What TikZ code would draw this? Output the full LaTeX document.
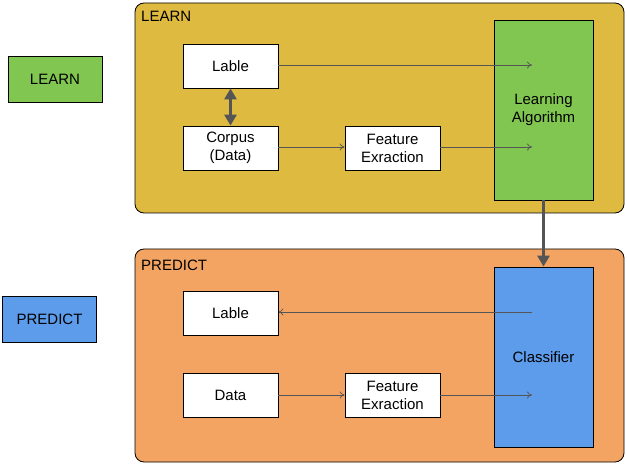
\documentclass[tikz,border=0pt]{standalone}
\usepackage{fontspec}
\setmainfont{Liberation Sans}
\usetikzlibrary{arrows.meta}
\definecolor{mustard}{HTML}{DEBA40}
\definecolor{lgreen}{HTML}{80C651}
\definecolor{orng}{HTML}{F4A462}
\definecolor{lblue}{HTML}{5D9CEA}
\definecolor{lgray}{HTML}{555555}
\tikzset{
  container/.style={draw=black, line width=0.8pt, rounded corners=9pt},
  wbox/.style={draw=black, fill=white, line width=0.8pt, minimum width=95pt, minimum height=44pt, inner sep=0pt, align=center, font=\fontsize{15}{18}\selectfont},
  tagbox/.style={draw=black, line width=0.9pt, minimum width=94pt, minimum height=46pt, inner sep=0pt, font=\fontsize{15}{18}\selectfont},
  bigbox/.style={draw=black, line width=0.8pt, minimum width=99pt, minimum height=180pt, inner sep=0pt, align=center, font=\fontsize{15}{18}\selectfont},
  thin/.style={draw=lgray, line width=0.7pt, -{To[length=5pt,width=7pt]}},
  thick/.style={draw=lgray, line width=3pt},
  title/.style={anchor=west, inner sep=0pt, font=\fontsize{15}{18}\selectfont},
}
\begin{document}
\begin{tikzpicture}[x=1pt,y=-1pt]
\useasboundingbox (0,0) rectangle (627,465);
% containers
\draw[container, fill=mustard] (135,3) rectangle (624,213);
\draw[container, fill=orng] (135,249) rectangle (624,462);
\node[title] (tl) at (141,16.5) {LEARN};
\node[title] (tp) at (141,265) {PREDICT};
% tags
\node[tagbox, fill=lgreen] (tagL) at (55,79) {LEARN};
\node[tagbox, fill=lblue] (tagP) at (49.5,319.5) {PREDICT};
% learn
\node[wbox] (lable1) at (230.5,66) {Lable};
\node[wbox] (corpus) at (230.5,148) {Corpus\\(Data)};
\node[wbox] (feat1) at (392.5,148) {Feature\\Exraction};
\node[bigbox, fill=lgreen] (algo) at (543.5,110) {Learning\\Algorithm};
\coordinate (a1) at (532,65);
\coordinate (a2) at (532,147);
% predict
\node[wbox] (lable2) at (230.5,313.5) {Lable};
\node[wbox] (data) at (230.5,395.5) {Data};
\node[wbox] (feat2) at (392.5,395.5) {Feature\\Exraction};
\node[bigbox, fill=lblue] (clf) at (543.5,357) {Classifier};
\coordinate (c1) at (532,312);
\coordinate (c2) at (532,395);
% connectors
\draw[thin] (lable1.east |- a1) -- (a1);
\draw[thin] (corpus.east |- a2) -- (feat1.west |- a2);
\draw[thin] (feat1.east |- a2) -- (a2);
\draw[thick, {Triangle[length=11pt,width=12pt]}-{Triangle[length=11pt,width=12pt]}] (lable1.south) -- (corpus.north);
\draw[thick, -{Triangle[length=11pt,width=12pt]}] (algo.south) -- (clf.north);
\draw[thin] (c1) -- (lable2.east |- c1);
\draw[thin] (data.east |- c2) -- (feat2.west |- c2);
\draw[thin] (feat2.east |- c2) -- (c2);
\end{tikzpicture}
\end{document}
